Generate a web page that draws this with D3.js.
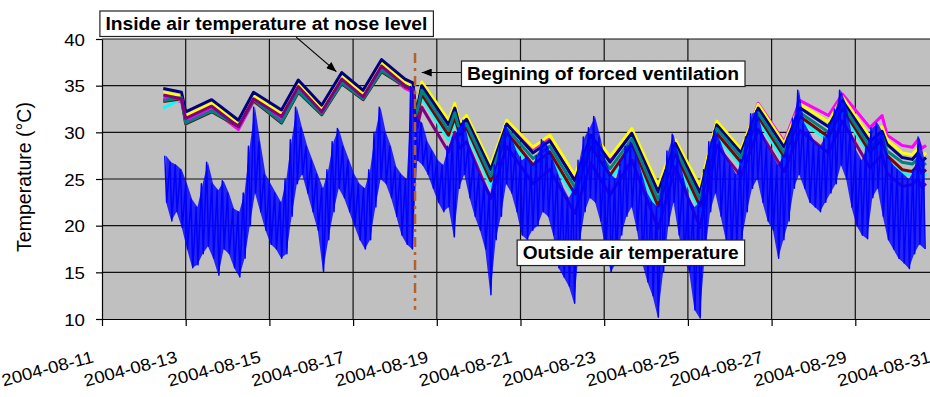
<!DOCTYPE html>
<html lang="en">
<head>
<meta charset="UTF-8">
<title>Inside and outside air temperature</title>
<script src="https://cdn.jsdelivr.net/npm/d3@7"></script>
<style>
    body { margin: 0; background: #fff; }
    svg { display: block; }
    text { font-family: "Liberation Sans", Arial, sans-serif; fill: #000; }
</style>
</head>
<body>
<svg id="chart" width="930" height="397"></svg>
<script>
// ---- data ----
// day of August 2004 (decimal) for the inside keypoints
const insideDay = [12.465, 12.90, 13.00, 13.62, 14.26, 14.62, 15.29, 15.69, 16.25, 16.73, 17.24, 17.68, 18.24, 18.43,
    18.49, 18.53, 18.64, 19.28, 19.43, 19.55, 19.71, 20.29, 20.67, 21.30, 21.70, 22.30, 22.68, 23.14, 23.66, 24.29,
    24.70, 25.29, 25.69, 26.27, 26.68, 27.30, 27.68, 28.36, 28.69, 29.35, 29.64, 29.76, 30.12, 30.36, 30.50, 30.59, 30.69];

const inMagenta = [33.7, 33.3, 31.2, 32.5, 30.3, 33.3, 31.4, 34.6, 31.9, 35.4, 33.5, 36.8, 34.7, 34.3,
    30.2, 32.8, 35.3, 31.1, 33.0, 30.9, 31.7, 26.3, 31.2, 28.2, 29.5, 25.2, 30.0, 27.2, 30.2, 24.1,
    29.1, 24.0, 31.1, 28.1, 33.1, 29.0, 33.4, 31.8, 34.1, 30.5, 31.8, 29.7, 28.6, 28.4, 29.2, 28.3, 28.6];
const inYellow = [34.3, 33.9, 31.8, 33.1, 30.9, 33.9, 32.0, 35.2, 32.5, 36.0, 34.1, 37.4, 35.3, 34.9,
    32.5, 33.0, 35.4, 31.3, 33.1, 31.0, 31.8, 26.5, 31.3, 28.4, 29.7, 25.4, 30.2, 27.4, 30.4, 24.3,
    29.2, 24.2, 31.2, 28.2, 33.0, 28.8, 33.0, 31.1, 33.8, 29.5, 30.6, 29.2, 27.8, 27.6, 28.3, 27.4, 27.8];
const inNavy = [34.7, 34.3, 32.2, 33.5, 31.3, 34.3, 32.4, 35.6, 32.9, 36.4, 34.5, 37.8, 35.7, 35.3,
    32.8, 32.6, 35.0, 30.8, 32.6, 30.6, 31.4, 26.0, 30.9, 27.8, 29.1, 24.8, 29.7, 26.8, 29.9, 23.6,
    28.8, 23.5, 30.8, 27.8, 32.6, 28.4, 32.6, 30.6, 33.4, 29.0, 30.1, 28.7, 27.3, 27.1, 27.8, 26.9, 27.3];
const inCyan = [32.6, 33.6, 30.9, 32.2, 30.6, 33.4, 31.0, 34.3, 31.9, 35.2, 33.5, 36.5, 34.9, 34.5,
    31.0, 31.5, 33.7, 29.2, 31.2, 29.3, 30.1, 24.3, 29.6, 26.0, 27.4, 22.9, 28.0, 24.9, 28.3, 21.4,
    27.4, 21.5, 29.6, 26.4, 31.3, 26.9, 31.3, 29.1, 32.2, 27.5, 28.7, 27.0, 25.6, 25.4, 26.1, 25.2, 25.6];
const inDarkRed = [33.3, 33.6, 30.9, 32.2, 30.6, 33.4, 31.0, 34.3, 31.9, 35.2, 33.5, 36.5, 34.9, 34.5,
    31.3, 31.8, 34.1, 29.7, 31.6, 29.7, 30.5, 24.8, 30.0, 26.5, 27.9, 23.4, 28.5, 25.4, 28.8, 22.1,
    27.8, 22.1, 29.9, 26.8, 31.7, 27.4, 31.7, 29.5, 32.6, 27.9, 29.2, 27.5, 26.0, 25.8, 26.5, 25.6, 26.0];
const inTeal = [33.4, 33.7, 31.0, 32.3, 30.7, 33.5, 31.1, 34.4, 32.0, 35.3, 33.6, 36.6, 35.0, 34.6,
    31.8, 32.2, 34.5, 30.2, 32.1, 30.1, 30.9, 25.3, 30.4, 27.2, 28.5, 24.1, 29.1, 26.1, 29.3, 22.8,
    28.3, 22.8, 30.4, 27.3, 32.1, 27.8, 32.1, 30.0, 33.0, 28.4, 29.6, 28.0, 26.8, 26.6, 27.2, 26.4, 26.7];
const inPurple = [34.0, 33.6, 31.5, 32.8, 30.6, 33.6, 31.7, 34.9, 32.2, 35.7, 33.8, 37.1, 35.0, 34.6,
    30.6, 30.5, 32.7, 27.9, 30.0, 28.3, 29.0, 22.9, 28.5, 24.5, 26.0, 21.3, 26.7, 23.3, 27.0, 19.7,
    26.3, 19.8, 28.6, 25.3, 30.3, 25.8, 30.2, 27.8, 31.2, 26.2, 27.6, 25.6, 24.2, 24.4, 25.0, 24.1, 24.5];

// outside air: high / low in each 3-hour bin, first bin starts 2004-08-12 12:00
const outsideStartDay = 12.5;
const outsideStepHours = 3;
const outsideHigh = [27.5, 26.8, 26.5, 26.0, 24.5, 22.8, 22.0, 24.5, 26.8, 24.5,
    23.8, 24.8, 23.5, 21.8, 21.5, 23.5, 28.5, 32.7, 29.0, 25.5,
    24.5, 23.5, 22.5, 25.0, 29.2, 32.7, 30.5, 28.5, 27.0, 25.5,
    24.0, 26.0, 29.0, 30.4, 28.5, 27.0, 25.5, 24.5, 24.0, 26.0,
    30.0, 32.7, 30.0, 28.5, 26.3, 25.5, 25.0, 34.9, 31.5, 31.0,
    29.0, 28.0, 27.0, 26.5, 28.5, 29.5, 30.5, 31.3, 28.5, 27.0,
    25.5, 24.5, 23.5, 26.5, 29.0, 30.7, 29.5, 28.0, 27.0, 27.4,
    26.5, 27.5, 29.2, 28.5, 27.0, 25.5, 24.0, 23.0, 24.0, 27.0,
    29.5, 30.5, 31.7, 29.5, 27.0, 25.5, 25.0, 27.0, 28.5, 28.9,
    27.5, 25.5, 23.5, 22.5, 22.0, 25.0, 28.0, 29.8, 27.5, 25.0,
    23.0, 22.0, 22.5, 26.0, 29.0, 30.2, 29.0, 27.5, 26.5, 25.5,
    27.0, 29.5, 32.0, 32.3, 30.0, 28.5, 27.5, 26.5, 27.5, 29.5,
    31.5, 34.5, 31.0, 30.0, 29.0, 28.5, 29.5, 31.0, 32.5, 34.5,
    33.0, 30.0, 28.0, 27.0, 28.5, 30.5, 31.0, 30.0, 27.5, 26.5,
    26.0, 25.5, 25.0, 26.0, 29.5, 27.0];
const outsideLow = [22.5, 20.5, 21.5, 19.8, 17.5, 15.5, 15.8, 17.0, 17.8, 16.5,
    14.7, 17.5, 17.0, 15.5, 14.5, 16.5, 20.0, 23.5, 21.5, 19.5,
    18.0, 17.5, 16.5, 17.0, 21.0, 24.5, 25.5, 23.5, 21.5, 19.5,
    15.1, 18.5, 21.5, 24.0, 23.0, 21.5, 20.0, 18.5, 17.5, 18.5,
    22.0, 25.0, 24.5, 23.0, 21.0, 19.0, 18.0, 17.5, 27.0, 26.5,
    25.5, 24.0, 22.5, 21.5, 22.0, 18.8, 24.0, 25.5, 23.0, 21.0,
    19.5, 17.5, 12.6, 18.5, 21.0, 24.5, 23.5, 21.5, 19.0, 18.5,
    19.5, 20.0, 21.5, 21.0, 19.0, 15.5, 14.5, 13.5, 11.7, 18.0,
    21.5, 23.0, 22.5, 20.5, 17.5, 15.0, 16.0, 19.0, 21.0, 22.0,
    19.5, 16.0, 14.0, 12.5, 10.2, 15.0, 20.0, 22.5, 19.0, 16.5,
    15.0, 11.0, 10.1, 17.0, 21.5, 23.5, 21.0, 18.5, 17.0, 18.0,
    18.5, 21.5, 24.0, 25.0, 22.5, 20.5, 19.5, 16.5, 18.5, 20.5,
    24.0, 25.5, 24.0, 22.5, 22.0, 21.5, 22.5, 23.5, 24.5, 26.5,
    25.0, 22.0, 20.0, 19.0, 18.6, 23.0, 24.0, 21.0, 18.5, 17.5,
    16.5, 16.0, 15.4, 17.0, 18.0, 17.5];

const ventilationDay = 18.48;
const yTicks = [10, 15, 20, 25, 30, 35, 40];
const xTickLabels = ["2004-08-11", "2004-08-13", "2004-08-15", "2004-08-17", "2004-08-19", "2004-08-21",
    "2004-08-23", "2004-08-25", "2004-08-27", "2004-08-29", "2004-08-31"];

// ---- layout ----
const plot = { left: 102, top: 39, bottom: 319, right: 945 };
const toDate = d => new Date(Date.UTC(2004, 7, 1) + (d - 1) * 864e5);
const parse = d3.utcParse("%Y-%m-%d");

const x = d3.scaleUtc().domain([parse(xTickLabels[0]), parse(xTickLabels[xTickLabels.length - 1])]).range([102, 939]);
const y = d3.scaleLinear().domain([10, 40]).range([plot.bottom, plot.top]);

const svg = d3.select("#chart");

const defs = svg.append("defs");
defs.append("marker")
    .attr("id", "head")
    .attr("viewBox", "0 0 10 8")
    .attr("refX", 10).attr("refY", 4)
    .attr("markerUnits", "userSpaceOnUse")
    .attr("markerWidth", 11).attr("markerHeight", 8)
    .attr("orient", "auto")
    .append("path").attr("d", "M0,0L10,4L0,8Z").attr("fill", "#000");
defs.append("clipPath").attr("id", "plotClip")
    .append("rect").attr("x", plot.left).attr("y", plot.top)
    .attr("width", plot.right - plot.left).attr("height", plot.bottom - plot.top);

// plot background
svg.append("rect")
    .attr("x", plot.left).attr("y", plot.top)
    .attr("width", plot.right - plot.left).attr("height", plot.bottom - plot.top)
    .attr("fill", "#c0c0c0");

// grid
const grid = svg.append("g").attr("stroke", "#111").attr("stroke-width", 1.2);
grid.selectAll("line.h").data(yTicks.slice(1)).join("line").attr("class", "h")
    .attr("x1", plot.left).attr("x2", plot.right)
    .attr("y1", d => y(d)).attr("y2", d => y(d));
grid.selectAll("line.v").data(xTickLabels.slice(1).map(parse)).join("line").attr("class", "v")
    .attr("x1", d => x(d)).attr("x2", d => x(d))
    .attr("y1", plot.top).attr("y2", plot.bottom);

const marks = svg.append("g").attr("clip-path", "url(#plotClip)");

// inside series
const insideSeries = [
    { values: inMagenta, color: "#ff00ff" },
    { values: inYellow, color: "#ffff00" },
    { values: inNavy, color: "#000080" },
    { values: inCyan, color: "#00ffff" },
    { values: inDarkRed, color: "#800000" },
    { values: inTeal, color: "#008080" },
    { values: inPurple, color: "#800080" }
];
const insideLine = d3.line()
    .x((d, i) => x(toDate(insideDay[i])))
    .y(d => y(d));
marks.selectAll("path.inside").data(insideSeries).join("path").attr("class", "inside")
    .attr("d", s => insideLine(s.values))
    .attr("fill", "none")
    .attr("stroke", s => s.color)
    .attr("stroke-width", 3)
    .attr("stroke-linejoin", "round");

// outside series: band of each bin plus strokes between its high and low
const binDay = i => outsideStartDay + i * outsideStepHours / 24;
marks.append("path")
    .attr("d", d3.area()
        .x((h, i) => x(toDate(binDay(i) + outsideStepHours / 96)))
        .y0((h, i) => y(outsideLow[i]))
        .y1(h => y(h))(outsideHigh))
    .attr("fill", "#0000ff")
    .attr("fill-opacity", 0.82);
const outsidePts = [];
outsideHigh.forEach((h, i) => {
    outsidePts.push([binDay(i), h]);
    outsidePts.push([binDay(i) + outsideStepHours * 0.35 / 24, outsideLow[i]]);
});
marks.append("path")
    .attr("d", d3.line().x(p => x(toDate(p[0]))).y(p => y(p[1]))(outsidePts))
    .attr("fill", "none")
    .attr("stroke", "#0000ff")
    .attr("stroke-width", 1.5)
    .attr("stroke-linejoin", "round");

// start of forced ventilation
svg.append("line")
    .attr("x1", x(toDate(ventilationDay))).attr("x2", x(toDate(ventilationDay)))
    .attr("y1", y(38.5)).attr("y2", y(11))
    .attr("stroke", "#b4622d").attr("stroke-width", 2.5)
    .attr("stroke-dasharray", "10,5,3,5");

// axes
const yAxis = svg.append("g")
    .attr("transform", `translate(${plot.left},0)`)
    .call(d3.axisLeft(y).tickValues(yTicks).tickSize(6).tickSizeOuter(0));
const xAxis = svg.append("g")
    .attr("transform", `translate(0,${plot.bottom})`)
    .call(d3.axisBottom(x).tickValues(xTickLabels.map(parse)).tickSize(7).tickSizeOuter(0)
        .tickFormat(d3.utcFormat("%Y-%m-%d")));
[yAxis, xAxis].forEach(g => {
    g.attr("font-family", null).attr("font-size", null);
    g.select(".domain").attr("stroke", "#000").attr("stroke-width", 1.2);
    g.selectAll(".tick line").attr("stroke", "#000").attr("stroke-width", 1.2);
});
yAxis.selectAll("text")
    .attr("x", 0).attr("dy", "0.36em")
    .attr("font-size", 17)
    .attr("transform", "translate(-17,0) scale(1.1,1)");
xAxis.selectAll("text")
    .attr("y", null).attr("dy", null)
    .attr("text-anchor", "end")
    .attr("font-size", 17)
    .attr("transform", "translate(-8,43) rotate(-15) scale(1.1,1)");

svg.append("text")
    .attr("transform", "translate(31,177) rotate(-90)")
    .attr("text-anchor", "middle")
    .attr("font-size", 19.5)
    .text("Temperature (°C)");

// annotations
const notes = [
    { label: "Inside air temperature at nose level", at: [10.95, 43.0], len: 322, from: [15.64, 40.2], to: [16.60, 36.5] },
    { label: "Begining of forced ventilation", at: [19.59, 37.64], len: 272, from: [19.59, 36.41], to: [18.64, 36.41] },
    { label: "Outside air temperature", at: [20.92, 18.46], len: 216 }
];
notes.filter(n => n.from).forEach(n => {
    svg.append("line")
        .attr("x1", x(toDate(n.from[0]))).attr("y1", y(n.from[1]))
        .attr("x2", x(toDate(n.to[0]))).attr("y2", y(n.to[1]))
        .attr("stroke", "#000").attr("stroke-width", 1.2)
        .attr("marker-end", "url(#head)");
});
const noteG = svg.selectAll("g.note").data(notes).join("g").attr("class", "note")
    .attr("transform", n => `translate(${x(toDate(n.at[0]))},${y(n.at[1])})`);
noteG.append("rect")
    .attr("width", n => n.len + 11.5).attr("height", 25.5)
    .attr("fill", "#fff").attr("stroke", "#222").attr("stroke-width", 1.2);
noteG.append("text")
    .attr("x", 5.5).attr("y", 18.7)
    .attr("font-size", 17.5).attr("font-weight", "bold")
    .attr("textLength", n => n.len).attr("lengthAdjust", "spacingAndGlyphs")
    .text(n => n.label);
</script>
</body>
</html>
